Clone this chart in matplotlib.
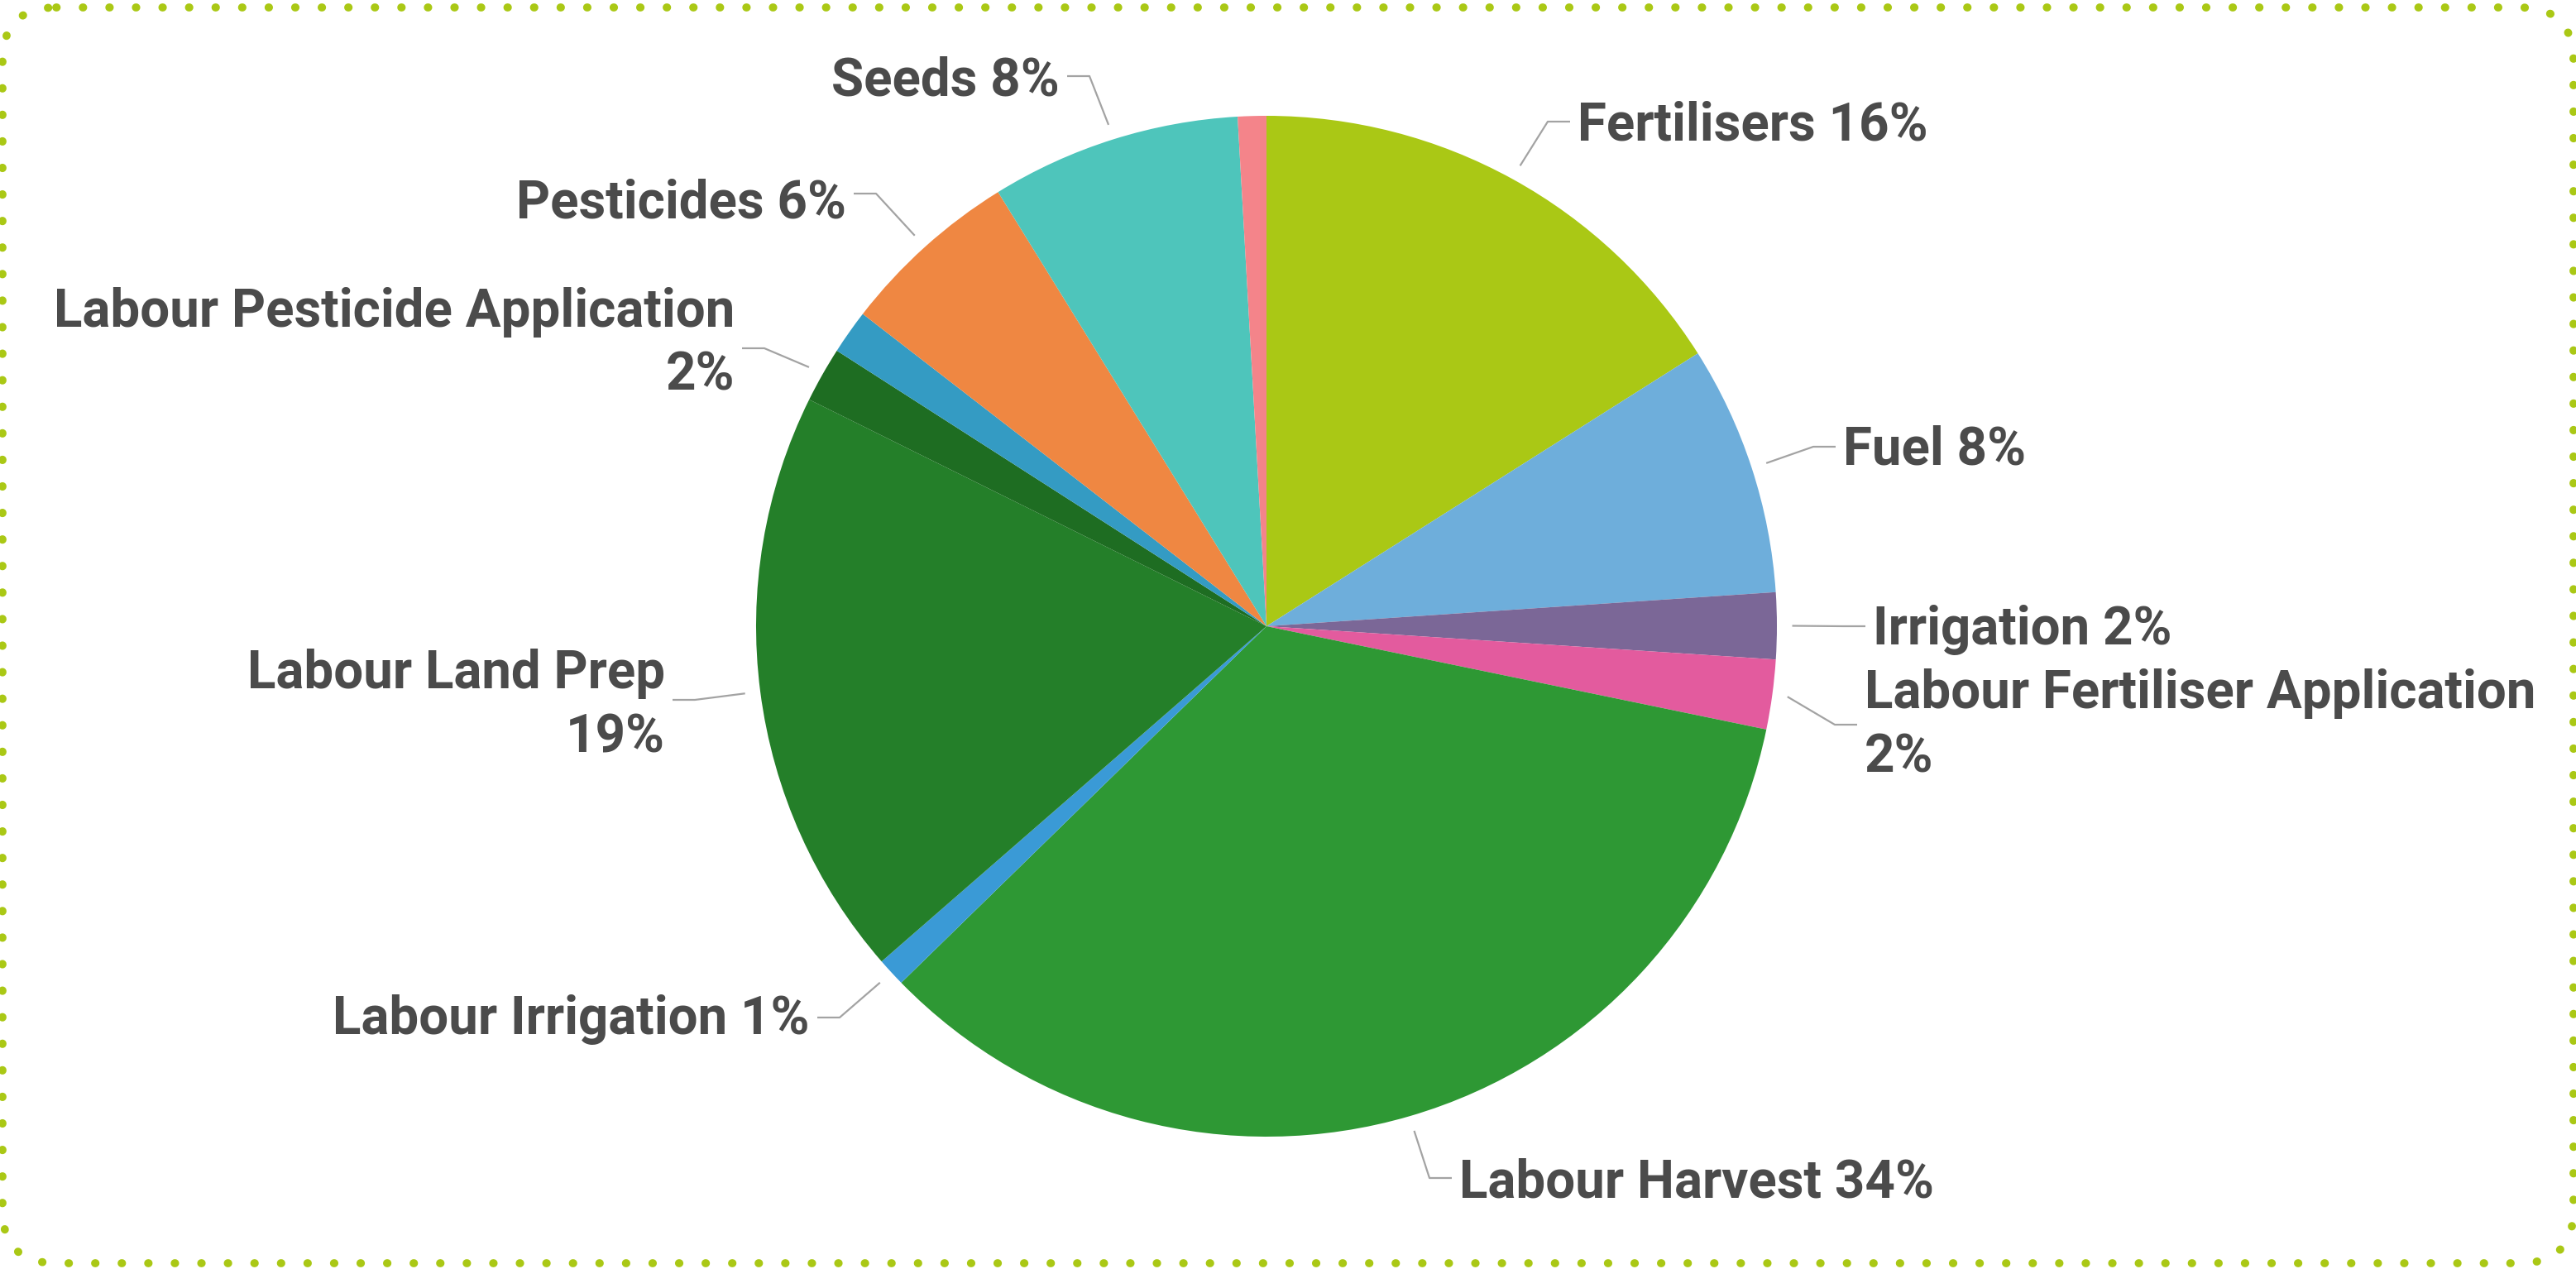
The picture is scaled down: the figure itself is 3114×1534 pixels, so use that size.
import numpy as np
import matplotlib
matplotlib.use("Agg")
import matplotlib.pyplot as plt
from matplotlib.patches import FancyBboxPatch

plt.rcParams['font.family'] = ['Roboto', 'DejaVu Sans']

# cost breakdown, clockwise from 12 o'clock
categories = ["Fertilisers", "Fuel", "Irrigation", "Labour Fertiliser Application",
              "Labour Harvest", "Labour Irrigation", "Labour Land Prep",
              "Labour Pesticide Application", "", "Pesticides", "Seeds", ""]
values = [16.0, 7.9, 2.1, 2.2, 34.4, 0.9, 18.7, 1.75, 1.4, 5.7, 7.9, 0.9]
colors = ["#aac815", "#6eaedb", "#7b6797", "#e35b9e", "#2e9834", "#3a9ad6",
          "#247f29", "#1e6d22", "#349bc3", "#ef8742", "#4ec5bb", "#f4848a"]

# label placement in pixel coords: text x, first baseline, alignment, leader y, line break
label_layout = {
    "Fertilisers": (1907, 169, "left", 147, False),
    "Fuel": (2228, 562, "left", 540, False),
    "Irrigation": (2264, 779, "left", 757, False),
    "Labour Fertiliser Application": (2254, 856, "left", 876, True),
    "Labour Harvest": (1764, 1447, "left", 1424, False),
    "Labour Irrigation": (979, 1250, "right", 1230, False),
    "Labour Land Prep": (804, 832, "right", 846, True),
    "Labour Pesticide Application": (888, 395, "right", 421, True),
    "Pesticides": (1023, 264, "right", 234, False),
    "Seeds": (1281, 115, "right", 92, False),
}

W, H = 3114, 1534
cx, cy, r = 1531, 757, 617
text_color = "#4b4b4b"
line_color = "#a3a3a3"

fig = plt.figure(figsize=(W / 100, H / 100), dpi=100)
ax = fig.add_axes([0, 0, 1, 1])

# y axis runs downward, so counterclockwise in data reads clockwise on screen
wedges, _ = ax.pie(values, colors=colors, startangle=-90, counterclock=True,
                   center=(cx, cy), radius=r, wedgeprops=dict(linewidth=0))

ax.set_xlim(0, W)
ax.set_ylim(H, 0)
ax.set_aspect('equal')
ax.axis('off')

total = sum(values)
for name, val, w in zip(categories, values, wedges):
    if not name:
        continue
    pct = int(round(val / total * 100))
    tx, ty, ha, ly, wrap = label_layout[name]
    lines = [name, f"{pct}%"] if wrap else [f"{name} {pct}%"]
    for i, s in enumerate(lines):
        ax.text(tx, ty + i * 77, s, ha=ha, va='baseline', fontsize=45.8,
                fontweight='bold', color=text_color)

    mid = np.deg2rad((w.theta1 + w.theta2) / 2)
    sx = cx + r * 1.03 * np.cos(mid)
    sy = cy + r * 1.03 * np.sin(mid)
    sign = -1 if ha == "left" else 1
    ax.plot([sx, tx + sign * 36, tx + sign * 9], [sy, ly, ly],
            color=line_color, lw=1.6, solid_capstyle='butt')

# dotted rounded frame
frame = FancyBboxPatch((3, 9), W - 6, H - 16,
                       boxstyle="round,pad=0,rounding_size=65",
                       fill=False, edgecolor="#aac815", linewidth=7,
                       linestyle=(0, (0.05, 3.25)), capstyle='round', clip_on=False)
ax.add_patch(frame)

fig.savefig("out.png", dpi=100, facecolor='white')
